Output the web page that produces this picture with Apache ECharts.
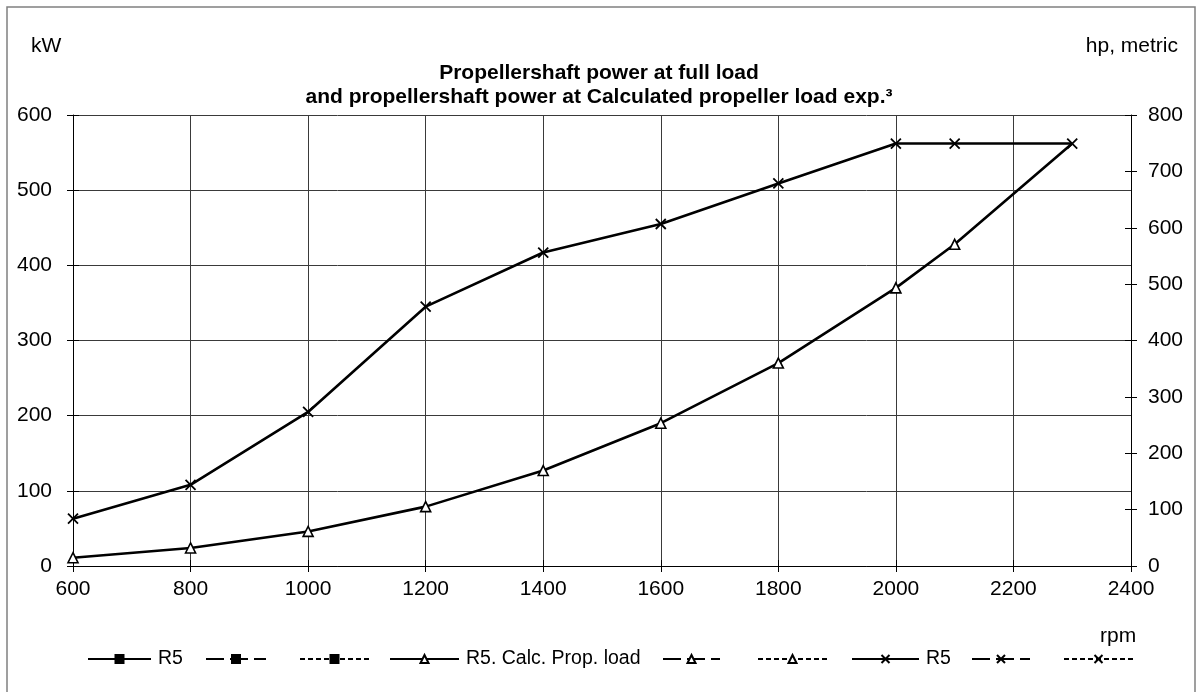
<!DOCTYPE html>
<html>
<head>
<meta charset="utf-8">
<script src="https://cdn.jsdelivr.net/npm/echarts@6/dist/echarts.min.js"></script>
<style>
html,body{margin:0;padding:0;background:#fff;}
#chart{width:1198px;height:692px;}
</style>
</head>
<body>
<div id="chart"></div>
<script>
// ---- data ----
const rpmFull = [600, 800, 1000, 1200, 1400, 1600, 1800, 2000, 2100, 2300];
const kwFull  = [63, 108, 205, 345, 417, 455, 509, 562, 562, 562];
const rpmProp = [600, 800, 1000, 1200, 1400, 1600, 1800, 2000, 2100, 2300];
const kwProp  = [11, 24, 46, 79, 127, 190, 270, 370, 428, 562];
const xTicks = {min: 600, max: 2400, interval: 200};
const kwTicks = {min: 0, max: 600, interval: 100};
const hpTicks = {min: 0, max: 800, interval: 100};
const legendNames = ['R5', '\u200b', '\u200b\u200b', 'R5. Calc. Prop. load', '\u200b\u200b\u200b', '\u200b\u200b\u200b\u200b', 'R5\u200b', '\u200b\u200b\u200b\u200b\u200b', '\u200b\u200b\u200b\u200b\u200b\u200b'];

const FONT = '"Liberation Sans", Arial, sans-serif';
const crossPath = 'path://M0,0L10,10M10,0L0,10';
const DASH = [18, 6];
const DOT = [5, 3];

const fullData = rpmFull.map((r, i) => [r, kwFull[i]]);
const propData = rpmProp.map((r, i) => {
  const last = i === rpmProp.length - 1;
  return last ? {value: [r, kwProp[i]], symbol: 'none'} : [r, kwProp[i]];
});

function mkSeries(name, data, symbol, symbolSize, dash, filled) {
  return {
    name: name,
    type: 'line',
    data: data,
    symbol: symbol,
    symbolSize: symbolSize,
    showSymbol: true,
    showAllSymbol: true,
    animation: false,
    z: 3,
    lineStyle: {color: '#000', width: 2.6, type: dash},
    itemStyle: {color: filled ? '#000' : '#fff', borderColor: '#000', borderWidth: symbol === crossPath ? 1.8 : 1.6},
    emphasis: {disabled: true}
  };
}

const series = [
  mkSeries(legendNames[0], [], 'rect', 8, 'solid', true),
  mkSeries(legendNames[1], [], 'rect', 8, DASH, true),
  mkSeries(legendNames[2], [], 'rect', 8, DOT, true),
  mkSeries(legendNames[3], propData, 'triangle', 10, 'solid', false),
  mkSeries(legendNames[4], [], 'triangle', 10, DASH, false),
  mkSeries(legendNames[5], [], 'triangle', 10, DOT, false),
  mkSeries(legendNames[6], fullData, crossPath, 10, 'solid', false),
  mkSeries(legendNames[7], [], crossPath, 10, DASH, false),
  mkSeries(legendNames[8], [], crossPath, 10, DOT, false)
];

const legendLeft = [82, 200, 294, 384, 657, 752, 846, 966, 1058];
const legendW = [63, 60, 69, 69, 57, 69, 67, 58, 69];
const legends = legendNames.map((n, i) => ({
  data: [n],
  left: legendLeft[i],
  top: 644,
  itemWidth: legendW[i],
  itemHeight: 10,
  itemGap: 0,
  selectedMode: false,
  textStyle: {fontFamily: FONT, fontSize: 19.5, color: '#000', padding: [0, 0, 0, 2]}
}));

const noComma = v => String(v);
const axisLineStyle = {show: true, lineStyle: {color: '#000', width: 1}};
const option = {
  backgroundColor: '#fff',
  animation: false,
  textStyle: {fontFamily: FONT},
  title: [
    {text: 'Propellershaft power at full load\nand propellershaft power at Calculated propeller load exp.\u00b3',
     left: 'center', top: 56,
     textStyle: {fontFamily: FONT, fontSize: 21, fontWeight: 'bold', color: '#000', lineHeight: 24}},
    {text: 'kW', left: 26, top: 31, textStyle: {fontFamily: FONT, fontSize: 21, fontWeight: 'normal', color: '#000'}},
    {text: 'hp, metric', right: 15, top: 31, textStyle: {fontFamily: FONT, fontSize: 21, fontWeight: 'normal', color: '#000'}},
    {text: 'rpm', left: 1095, top: 621, textStyle: {fontFamily: FONT, fontSize: 21, fontWeight: 'normal', color: '#000'}}
  ],
  legend: legends,
  grid: {left: 73, right: 67, top: 115, bottom: 126, containLabel: false},
  xAxis: [
    {type: 'value', min: xTicks.min, max: xTicks.max, interval: xTicks.interval, position: 'bottom',
     axisLine: axisLineStyle,
     axisTick: {show: true, inside: false, length: 6, lineStyle: {color: '#000'}},
     axisLabel: {fontFamily: FONT, fontSize: 21, color: '#000', margin: 13, formatter: noComma},
     splitLine: {show: true, lineStyle: {color: '#3a3a3a', width: 1}}},
    {type: 'value', min: xTicks.min, max: xTicks.max, interval: xTicks.interval, position: 'bottom',
     axisLine: {show: false},
     axisTick: {show: true, inside: true, length: 6, lineStyle: {color: '#000'}},
     axisLabel: {show: false}, splitLine: {show: false}}
  ],
  yAxis: [
    {type: 'value', min: kwTicks.min, max: kwTicks.max, interval: kwTicks.interval, position: 'left',
     axisLine: axisLineStyle,
     axisTick: {show: true, inside: false, length: 6, lineStyle: {color: '#000'}},
     axisLabel: {fontFamily: FONT, fontSize: 21, color: '#000', margin: 21, formatter: noComma},
     splitLine: {show: true, lineStyle: {color: '#3a3a3a', width: 1}}},
    {type: 'value', min: hpTicks.min, max: hpTicks.max, interval: hpTicks.interval, position: 'right',
     axisLine: axisLineStyle,
     axisTick: {show: true, inside: false, length: 6, lineStyle: {color: '#000'}},
     axisLabel: {fontFamily: FONT, fontSize: 21, color: '#000', margin: 17, formatter: noComma},
     splitLine: {show: false}},
    {type: 'value', min: kwTicks.min, max: kwTicks.max, interval: kwTicks.interval, position: 'left',
     axisLine: {show: false},
     axisTick: {show: true, inside: true, length: 6, lineStyle: {color: '#000'}},
     axisLabel: {show: false}, splitLine: {show: false}},
    {type: 'value', min: hpTicks.min, max: hpTicks.max, interval: hpTicks.interval, position: 'right',
     axisLine: {show: false},
     axisTick: {show: true, inside: true, length: 6, lineStyle: {color: '#000'}},
     axisLabel: {show: false}, splitLine: {show: false}}
  ],
  series: series,
  graphic: [
    {type: 'rect', silent: true, z: -1,
     shape: {x: 7, y: 7, width: 1188, height: 700},
     style: {fill: 'none', stroke: '#808080', lineWidth: 1.5}}
  ]
};

const chart = echarts.init(document.getElementById('chart'), null, {renderer: 'canvas'});
chart.setOption(option);
</script>
</body>
</html>
